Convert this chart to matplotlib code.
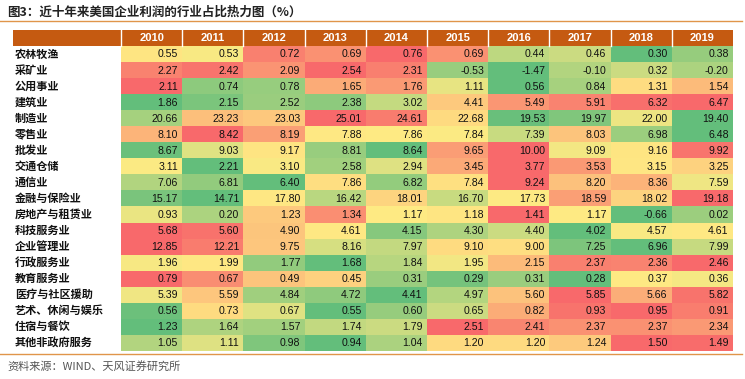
import numpy as np
import matplotlib
matplotlib.use("Agg")
import matplotlib.pyplot as plt
from matplotlib.colors import LinearSegmentedColormap, TwoSlopeNorm
from matplotlib.lines import Line2D

plt.rcParams['font.family'] = ['Noto Sans CJK SC', 'DejaVu Sans']

# data
years = ["2010", "2011", "2012", "2013", "2014", "2015", "2016", "2017", "2018", "2019"]
industries = ["农林牧渔", "采矿业", "公用事业", "建筑业", "制造业", "零售业", "批发业",
              "交通仓储", "通信业", "金融与保险业", "房地产与租赁业", "科技服务业",
              "企业管理业", "行政服务业", "教育服务业", "医疗与社区援助",
              "艺术、休闲与娱乐", "住宿与餐饮", "其他非政府服务"]
agri = [0.55, 0.53, 0.72, 0.69, 0.76, 0.69, 0.44, 0.46, 0.30, 0.38]
mining = [2.27, 2.42, 2.09, 2.54, 2.31, -0.53, -1.47, -0.10, 0.32, -0.20]
utilities = [2.11, 0.74, 0.78, 1.65, 1.76, 1.11, 0.56, 0.84, 1.31, 1.54]
construction = [1.86, 2.15, 2.52, 2.38, 3.02, 4.41, 5.49, 5.91, 6.32, 6.47]
manufacturing = [20.66, 23.23, 23.03, 25.01, 24.61, 22.68, 19.53, 19.97, 22.00, 19.40]
retail = [8.10, 8.42, 8.19, 7.88, 7.86, 7.84, 7.39, 8.03, 6.98, 6.48]
wholesale = [8.67, 9.03, 9.17, 8.81, 8.64, 9.65, 10.00, 9.09, 9.16, 9.92]
transport = [3.11, 2.21, 3.10, 2.58, 2.94, 3.45, 3.77, 3.53, 3.15, 3.25]
telecom = [7.06, 6.81, 6.40, 7.86, 6.82, 7.84, 9.24, 8.20, 8.36, 7.59]
finance = [15.17, 14.71, 17.80, 16.42, 18.01, 16.70, 17.73, 18.59, 18.02, 19.18]
realestate = [0.93, 0.20, 1.23, 1.34, 1.17, 1.18, 1.41, 1.17, -0.66, 0.02]
techservice = [5.68, 5.60, 4.90, 4.61, 4.15, 4.30, 4.40, 4.02, 4.57, 4.61]
management = [12.85, 12.21, 9.75, 8.16, 7.97, 9.10, 9.00, 7.25, 6.96, 7.99]
admin = [1.96, 1.99, 1.77, 1.68, 1.84, 1.95, 2.15, 2.37, 2.36, 2.46]
education = [0.79, 0.67, 0.49, 0.45, 0.31, 0.29, 0.31, 0.28, 0.37, 0.36]
health = [5.39, 5.59, 4.84, 4.72, 4.41, 4.97, 5.60, 5.85, 5.66, 5.82]
arts = [0.56, 0.73, 0.67, 0.55, 0.60, 0.65, 0.82, 0.93, 0.95, 0.91]
hotel = [1.23, 1.64, 1.57, 1.74, 1.79, 2.51, 2.41, 2.37, 2.37, 2.34]
other = [1.05, 1.11, 0.98, 0.94, 1.04, 1.20, 1.20, 1.24, 1.50, 1.49]

values = np.array([agri, mining, utilities, construction, manufacturing, retail,
                   wholesale, transport, telecom, finance, realestate, techservice,
                   management, admin, education, health, arts, hotel, other])

W, H = 745, 379
fig = plt.figure(figsize=(W / 100, H / 100), dpi=100)

# table area in pixels
x0, x1 = 13, 733
y_head, y_top, y_bot = 29.5, 46, 350.7
ncol, nrow = len(years), len(industries)
colw = (x1 - 121) / ncol
rowh = (y_bot - y_top) / nrow
lab_w = (121 - x0) / colw
head_h = (y_top - y_head) / rowh

ax = fig.add_axes([x0 / W, 1 - y_bot / H, (x1 - x0) / W, (y_bot - y_head) / H])
ax.set_xlim(-lab_w, ncol)
ax.set_ylim(nrow, -head_h)
ax.axis("off")

# excel style 3-colour scale per row
cmap = LinearSegmentedColormap.from_list("gyr", ["#63BE7B", "#FFEB84", "#F8696B"])
colors = np.zeros((nrow, ncol, 4))
for i, row in enumerate(values):
    norm = TwoSlopeNorm(vmin=row.min(), vcenter=np.median(row), vmax=row.max())
    colors[i] = cmap(norm(row))
ax.imshow(colors, extent=(0, ncol, nrow, 0), aspect="auto", interpolation="nearest")

# header
head_color = "#C55A11"
ax.add_patch(plt.Rectangle((-lab_w, -head_h), lab_w + ncol, head_h, color=head_color, lw=0))
for j in range(ncol):
    ax.plot([j, j], [-head_h, 0], color="white", lw=1)
    ax.text(j + 0.5, -head_h / 2, years[j], ha="center", va="center", color="white",
            fontsize=8, fontweight="bold", family="Liberation Sans")

for i in range(nrow):
    ax.text(-lab_w + 0.03, i + 0.5, industries[i], ha="left", va="center",
            fontsize=8, fontweight="bold", color="#111111")
    for j in range(ncol):
        ax.text(j + 0.93, i + 0.53, "%.2f" % values[i, j], ha="right", va="center",
                fontsize=7.6, family="Liberation Sans", color="#111111")

# title, rules, source
fig.text(7 / W, 1 - 12 / H, "图3：近十年来美国企业利润的行业占比热力图（%）",
         ha="left", va="center", fontsize=9, fontweight="bold", color="#222222")
line_color = "#E0954A"
fig.add_artist(Line2D([0, 742 / W], [1 - 21 / H, 1 - 21 / H], color=line_color, lw=1))
fig.add_artist(Line2D([0, 742 / W], [1 - 354 / H, 1 - 354 / H], color=line_color, lw=1))
fig.text(7 / W, 1 - 366 / H, "资料来源：WIND、天风证券研究所", ha="left", va="center",
         fontsize=8, color="#555555")

fig.savefig("out.png", dpi=100)
